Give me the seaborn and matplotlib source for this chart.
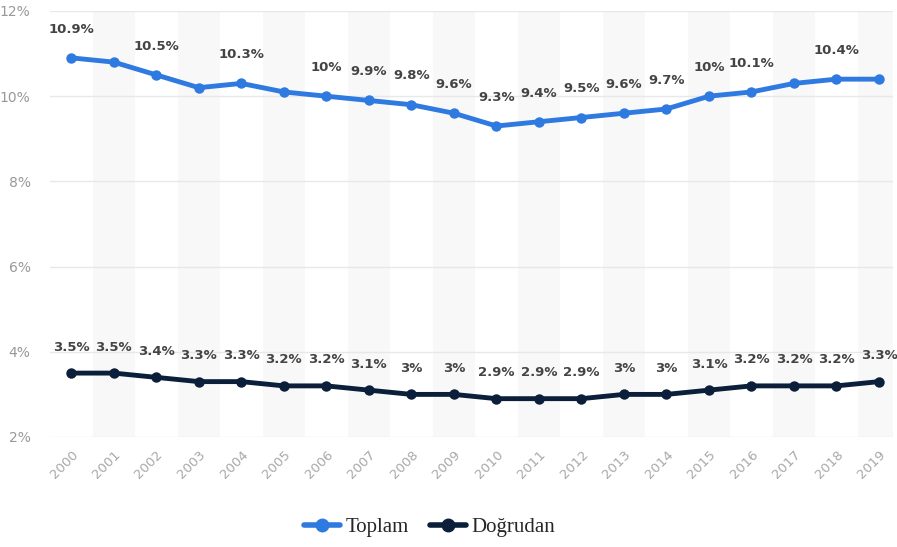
import matplotlib
matplotlib.use("Agg")
import matplotlib.pyplot as plt
import seaborn as sns
import pandas as pd
from matplotlib.lines import Line2D
from matplotlib.patches import Rectangle

years = [str(y) for y in range(2000, 2020)]
toplam = [10.9, 10.8, 10.5, 10.2, 10.3, 10.1, 10.0, 9.9, 9.8, 9.6,
          9.3, 9.4, 9.5, 9.6, 9.7, 10.0, 10.1, 10.3, 10.4, 10.4]
dogrudan = [3.5, 3.5, 3.4, 3.3, 3.3, 3.2, 3.2, 3.1, 3.0, 3.0,
            2.9, 2.9, 2.9, 3.0, 3.0, 3.1, 3.2, 3.2, 3.2, 3.3]
# years whose value is written above the Toplam line
toplam_labeled = ["2000", "2002", "2004", "2006", "2007", "2008", "2009", "2010",
                  "2011", "2012", "2013", "2014", "2015", "2016", "2018"]
series_names = ["Toplam", "Doğrudan"]
colors = ["#2f7ae0", "#0b1f3a"]
y_ticks = [2, 4, 6, 8, 10, 12]

df = pd.DataFrame({
    "year": years * 2,
    "value": toplam + dogrudan,
    "series": [series_names[0]] * len(years) + [series_names[1]] * len(years),
})

sns.set_theme(style="white")
fig = plt.figure(figsize=(8.97, 5.47), dpi=100)
ax = fig.add_axes([50 / 897, 110 / 547, 843 / 897, 426 / 547])

ax.set_xlim(-0.5, 19.33)
ax.set_ylim(2, 12)

# alternating column shading
for i in range(len(years)):
    if i % 2 == 1:
        ax.add_patch(Rectangle((i - 0.5, 2), 1, 10, facecolor="#f8f8f8",
                               edgecolor="none", zorder=0))

for t in y_ticks:
    ax.axhline(t, color="#e8e8e8", lw=1, zorder=1)

sns.lineplot(data=df, x="year", y="value", hue="series", palette=colors,
             marker="o", markersize=7.5, markeredgewidth=0, linewidth=3.5,
             ax=ax, legend=False, zorder=3)

ax.set_xticks(range(len(years)))
ax.set_xticklabels(years, rotation=45, ha="right", rotation_mode="anchor",
                   fontsize=9.5, color="#a8a8a8")
ax.set_yticks(y_ticks)
ax.set_yticklabels([f"{t}%" for t in y_ticks], fontsize=10, color="#999999")
ax.tick_params(axis="both", length=0)
ax.tick_params(axis="y", pad=14)
ax.tick_params(axis="x", pad=8)
ax.set_xlabel("")
ax.set_ylabel("")
for s in ax.spines.values():
    s.set_visible(False)


def fmt(v):
    return f"{v:g}%"


for i, (yr, v) in enumerate(zip(years, toplam)):
    if yr in toplam_labeled:
        ax.annotate(fmt(v), (i, v), xytext=(0, 16), textcoords="offset points",
                    ha="center", va="bottom", fontsize=9.5, fontweight="bold",
                    color="#444444", annotation_clip=False)
for i, v in enumerate(dogrudan):
    ax.annotate(fmt(v), (i, v), xytext=(0, 14), textcoords="offset points",
                ha="center", va="bottom", fontsize=9.5, fontweight="bold",
                color="#444444", annotation_clip=False)

handles = [Line2D([0], [0], color=c, lw=4, marker="o", markersize=9)
           for c in colors]
fig.legend(handles, series_names, loc="center", ncol=2,
           bbox_to_anchor=(430 / 897, 1 - 527 / 547), frameon=False,
           prop={"family": "Liberation Serif", "size": 15},
           handlelength=1.7, handletextpad=0.3, columnspacing=1.0)

fig.savefig("out.png", dpi=100)
